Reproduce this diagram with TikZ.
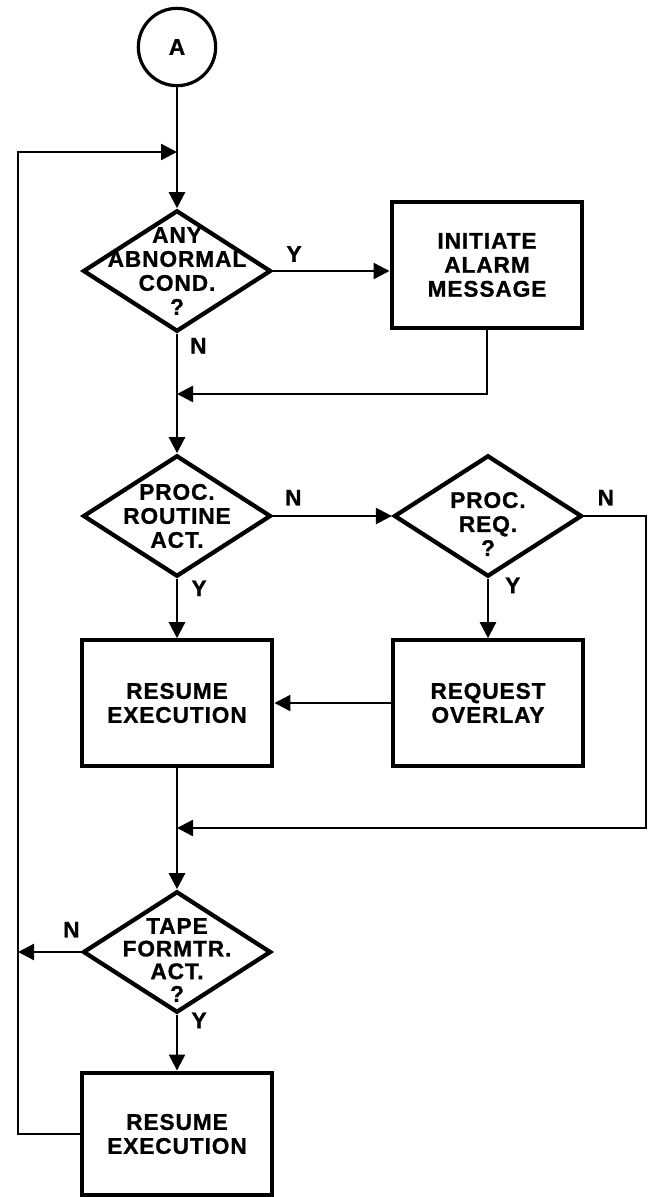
\documentclass[tikz,border=0pt]{standalone}
\usepackage{fontspec}
\setmainfont{Liberation Sans}[LetterSpace=4, BoldFeatures={FakeBold=1}]
\usetikzlibrary{positioning, arrows.meta, shapes.geometric}

\begin{document}
\begin{tikzpicture}[
    x=0.75pt, y=-0.75pt,
    chart/.style={font=\fontsize{17}{18}\selectfont\bfseries, align=center},
    procbox/.style={rectangle, draw, line width=3.2pt, minimum width=143pt, minimum height=94pt, chart},
    decbox/.style={diamond, draw, line width=3.2pt, minimum width=141pt, minimum height=91pt, inner sep=0pt},
    dectext/.style={chart, inner sep=0pt},
    conn/.style={circle, draw, line width=2.4pt, minimum size=58pt, chart},
    arr/.style={-{Triangle[length=12pt, width=12pt]}, line width=1.8pt},
    yn/.style={chart, inner sep=1pt},
]
\useasboundingbox (0,0) rectangle (650,1197);

\node[conn] (a) at (177,47) {A};
\coordinate (j0) at (177,152);
\coordinate (lp) at (18,152);

\node[decbox, label={[dectext]center:{ANY\\ABNORMAL\\COND.\\?}}] (d1) at (177,271) {};
\node[procbox] (alarm) at (487,265) {INITIATE\\ALARM\\MESSAGE};
\coordinate (m1) at (177,394);

\node[decbox, label={[dectext]center:{PROC.\\ROUTINE\\ACT.}}] (d2) at (177,516) {};
\node[decbox, label={[dectext, yshift=-6pt]center:{PROC.\\REQ.\\?}}] (d3) at (488,516) {};

\node[procbox] (resume1) at (177,703) {RESUME\\EXECUTION};
\node[procbox] (overlay) at (488,703) {REQUEST\\OVERLAY};
\coordinate (m2) at (177,828);

\node[decbox, label={[dectext, font=\fontsize{17}{17}\selectfont\bfseries, yshift=-6pt]center:{TAPE\\FORMTR.\\ACT.\\?}}] (d4) at (177,952) {};
\node[procbox, minimum height=92pt] (resume2) at (177,1134) {RESUME\\EXECUTION};

% main flow
\draw[arr] (a) -- (d1);
\draw[arr] (d1.east) -- node[yn, pos=0.18, above=5pt] {Y} (d1.east -| alarm.west);
\draw[arr] (alarm.south) |- (m1);
\draw[arr] (d1) -- node[yn, pos=0.1, right=8pt] {N} (d2);
\draw[arr] (d2.east) -- node[yn, pos=0.17, above=6pt] {N} (d3.west);
\draw[arr] (d2) -- node[yn, pos=0.16, right=9pt] {Y} (resume1);
\draw[arr] (d3) -- node[yn, pos=0.11, right=11pt] {Y} (overlay);
\draw[arr] (overlay) -- (resume1);
\draw[arr] (d3.east) -- node[yn, pos=0.35, above=6pt] {N} ++(62,0) |- (m2);
\draw[arr] (resume1) -- (d4);

% tape formatter and loop back
\draw[arr] (d4.west) -- node[yn, pos=0.15, above=9pt] {N} (d4.west -| lp);
\draw[arr] (d4) -- node[yn, pos=0.1, right=9pt] {Y} (resume2);
\draw[arr] (resume2.west) -| (lp) -- (j0);

\end{tikzpicture}
\end{document}
